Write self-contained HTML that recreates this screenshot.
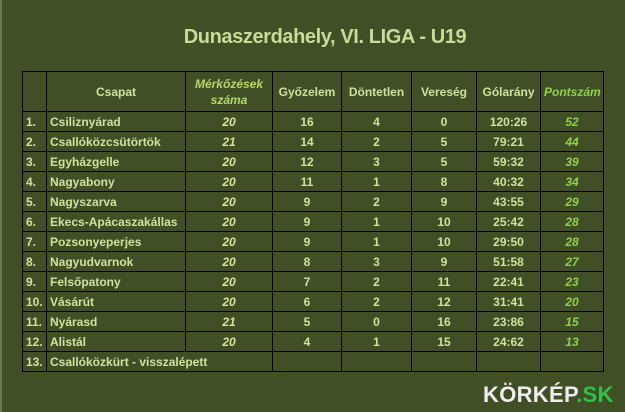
<!DOCTYPE html>
<html><head><meta charset="utf-8"><style>
body{margin:0;width:625px;height:412px;background:#404f25;position:relative;overflow:hidden;font-family:"Liberation Sans",sans-serif;color:#cfe2a0}
.edge{position:absolute;left:0;top:0;width:2px;height:412px;background:#6a7a55}
h1{position:absolute;left:140px;width:370px;top:26px;margin:0;text-align:center;font-size:20px;font-weight:bold;color:#c8dc9a;letter-spacing:-0.4px}
table{position:absolute;left:22px;top:71px;width:581px;border-collapse:collapse;font-size:12px;font-weight:bold;table-layout:fixed}
td{border:1.5px solid #000;height:19px;padding:0 3px;text-align:center;white-space:nowrap;overflow:hidden}
tr.h td{height:39px;line-height:16px}
td.l{text-align:left}
.i{font-style:italic;color:#d6e6a0}
.p{font-style:italic;color:#8ed14b}
.logo{position:absolute;left:483px;top:382px;font-size:22px;font-weight:bold;color:#eee;letter-spacing:0.3px}
.logo span{color:#2fbf4a}
</style></head><body>
<div class="edge"></div>
<h1>Dunaszerdahely, VI. LIGA - U19</h1>
<table>
<colgroup><col style="width:24px"><col style="width:139px"><col style="width:87px"><col style="width:69px"><col style="width:70px"><col style="width:65px"><col style="width:64px"><col style="width:63px"></colgroup>
<tr class="h"><td></td><td>Csapat</td><td class="i" style="color:#b7d86a">Mérkőzések<br>száma</td><td>Győzelem</td><td>Döntetlen</td><td>Vereség</td><td>Gólarány</td><td class="p">Pontszám</td></tr>
<tr><td class="l">1.</td><td class="l">Csiliznyárad</td><td class="i">20</td><td>16</td><td>4</td><td>0</td><td>120:26</td><td class="p">52</td></tr>
<tr><td class="l">2.</td><td class="l">Csallóközcsütörtök</td><td class="i">21</td><td>14</td><td>2</td><td>5</td><td>79:21</td><td class="p">44</td></tr>
<tr><td class="l">3.</td><td class="l">Egyházgelle</td><td class="i">20</td><td>12</td><td>3</td><td>5</td><td>59:32</td><td class="p">39</td></tr>
<tr><td class="l">4.</td><td class="l">Nagyabony</td><td class="i">20</td><td>11</td><td>1</td><td>8</td><td>40:32</td><td class="p">34</td></tr>
<tr><td class="l">5.</td><td class="l">Nagyszarva</td><td class="i">20</td><td>9</td><td>2</td><td>9</td><td>43:55</td><td class="p">29</td></tr>
<tr><td class="l">6.</td><td class="l">Ekecs-Apácaszakállas</td><td class="i">20</td><td>9</td><td>1</td><td>10</td><td>25:42</td><td class="p">28</td></tr>
<tr><td class="l">7.</td><td class="l">Pozsonyeperjes</td><td class="i">20</td><td>9</td><td>1</td><td>10</td><td>29:50</td><td class="p">28</td></tr>
<tr><td class="l">8.</td><td class="l">Nagyudvarnok</td><td class="i">20</td><td>8</td><td>3</td><td>9</td><td>51:58</td><td class="p">27</td></tr>
<tr><td class="l">9.</td><td class="l">Felsőpatony</td><td class="i">20</td><td>7</td><td>2</td><td>11</td><td>22:41</td><td class="p">23</td></tr>
<tr><td class="l">10.</td><td class="l">Vásárút</td><td class="i">20</td><td>6</td><td>2</td><td>12</td><td>31:41</td><td class="p">20</td></tr>
<tr><td class="l">11.</td><td class="l">Nyárasd</td><td class="i">21</td><td>5</td><td>0</td><td>16</td><td>23:86</td><td class="p">15</td></tr>
<tr><td class="l">12.</td><td class="l">Alistál</td><td class="i">20</td><td>4</td><td>1</td><td>15</td><td>24:62</td><td class="p">13</td></tr>
<tr><td class="l">13.</td><td class="l" colspan="2">Csallóközkürt - visszalépett</td><td></td><td></td><td></td><td></td><td></td></tr>
</table>
<div class="logo">KÖRKÉP<span>.SK</span></div>
</body></html>
